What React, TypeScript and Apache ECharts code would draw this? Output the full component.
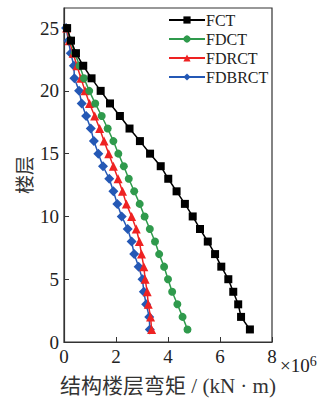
import React, { useEffect, useRef } from "react";
import * as echarts from "echarts";

const floors = [1, 2, 3, 4, 5, 6, 7, 8, 9, 10, 11, 12, 13, 14, 15, 16, 17, 18, 19, 20, 21, 22, 23, 24, 25];
const FCT = [7.15, 6.81, 6.7, 6.51, 6.32, 6.05, 5.81, 5.53, 5.23, 4.95, 4.65, 4.33, 4.01, 3.72, 3.31, 2.92, 2.52, 2.15, 1.77, 1.41, 1.06, 0.74, 0.46, 0.27, 0.12];
const FDCT = [4.75, 4.56, 4.36, 4.16, 4.0, 3.85, 3.66, 3.5, 3.3, 3.1, 2.91, 2.7, 2.49, 2.3, 2.09, 1.9, 1.68, 1.45, 1.2, 0.97, 0.77, 0.6, 0.42, 0.25, 0.12];
const FDRCT = [3.37, 3.33, 3.24, 3.2, 3.12, 3.07, 2.98, 2.9, 2.78, 2.6, 2.4, 2.25, 2.08, 1.9, 1.72, 1.54, 1.37, 1.18, 0.98, 0.81, 0.65, 0.5, 0.35, 0.2, 0.1];
const FDBRCT = [3.3, 3.28, 3.16, 3.07, 3.02, 2.87, 2.7, 2.6, 2.45, 2.22, 2.05, 1.9, 1.74, 1.5, 1.32, 1.15, 1.03, 0.85, 0.68, 0.58, 0.4, 0.38, 0.26, 0.17, 0.08];
const seriesNames = ["FCT", "FDCT", "FDRCT", "FDBRCT"];
const xTicks = [0, 2, 4, 6, 8];

const SERIF = "Liberation Serif, Times New Roman, serif";
const CJK = "Liberation Serif, Noto Sans CJK SC, serif";

export default function App() {
  const ref = useRef<HTMLDivElement>(null);
  useEffect(() => {
    if (!ref.current) return;
    const chart = echarts.init(ref.current, undefined, { renderer: "svg" });
    const colors = ["#000000", "#2f9a4c", "#ee2222", "#2458b5"];
    const symbols = ["rect", "circle", "triangle", "diamond"];
    const sizes = [8, 8, 9, 10];
    const all = [FCT, FDCT, FDRCT, FDBRCT];
    chart.setOption({
      animation: false,
      grid: {
        left: 64, top: 8, width: 208, height: 334,
        outerBoundsMode: "none", containLabel: false,
        show: true, borderColor: "#333", borderWidth: 1.2, backgroundColor: "transparent",
      },
      legend: {
        orient: "vertical",
        left: 163,
        top: 7,
        itemWidth: 36,
        itemHeight: 9,
        itemGap: 3,
        textStyle: { fontFamily: SERIF, fontSize: 16, color: "#222", padding: [0, 0, 0, -4] },
        data: seriesNames,
      },
      xAxis: {
        type: "value",
        min: 0,
        max: 8,
        interval: 2,
        name: "结构楼层弯矩 / (kN · m)",
        nameLocation: "middle",
        nameMoveOverlap: false,
        nameGap: 33,
        nameTextStyle: { fontFamily: CJK, fontSize: 21, color: "#333" },
        axisLine: { show: true, lineStyle: { color: "#333", width: 1.2 } },
        axisTick: { show: true, inside: true, length: 5, lineStyle: { color: "#333" } },
        axisLabel: { fontFamily: SERIF, fontSize: 19, color: "#222", margin: 5, formatter: (v: number) => (xTicks.includes(v) ? String(v) : "") },
        splitLine: { show: false },
      },
      yAxis: {
        type: "value",
        min: 0,
        max: 26.6,
        interval: 5,
        name: "楼层",
        nameLocation: "middle",
        nameMoveOverlap: false,
        nameGap: 29,
        nameTextStyle: { fontFamily: CJK, fontSize: 19, color: "#333" },
        axisLine: { show: true, lineStyle: { color: "#333", width: 1.2 } },
        axisTick: { show: true, inside: true, length: 5, lineStyle: { color: "#333" } },
        axisLabel: { fontFamily: SERIF, fontSize: 19, color: "#222", margin: 5, showMaxLabel: false },
        splitLine: { show: false },
      },
      graphic: [
        {
          type: "text",
          left: 280,
          top: 354,
          style: {
            text: "×10{s|6}",
            fontFamily: SERIF,
            fontSize: 19,
            fill: "#222",
            rich: { s: { fontFamily: SERIF, fontSize: 14, fill: "#222", verticalAlign: "top", padding: [0, 0, 8, 0] } },
          },
        },
      ],
      series: all.map((vals, i) => ({
        name: seriesNames[i],
        type: "line",
        data: vals.map((v, k) => [v, floors[k]]),
        symbol: symbols[i],
        symbolSize: sizes[i],
        showAllSymbol: true,
        lineStyle: { color: colors[i], width: 1.5 },
        itemStyle: { color: colors[i] },
        z: 10 - i,
      })),
    });
    return () => chart.dispose();
  }, []);
  return <div ref={ref} style={{ width: 322, height: 399, position: "absolute", left: 0, top: 0 }} />;
}
